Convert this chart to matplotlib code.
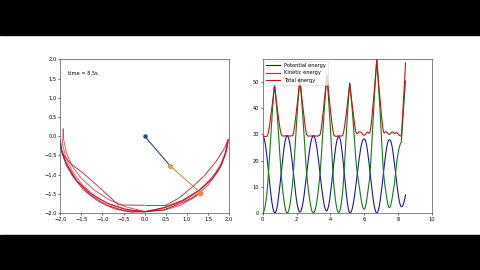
import numpy as np
import matplotlib
matplotlib.use("Agg")
import matplotlib.pyplot as plt
from matplotlib.collections import LineCollection
from matplotlib.patches import Rectangle

# ---------------- data ----------------
DT = 0.05  # sampling step of the energy series (s)

potential = [
    29.5, 29.1, 28.1, 26.5, 24.2, 21.6, 18.6, 15.4, 12.2, 9.1,
    6.3, 3.9, 2.0, 0.7, 0.1, 0.1, 0.9, 2.2, 4.2, 6.7,
    9.5, 12.5, 15.7, 18.8, 21.8, 24.3, 26.5, 28.2, 29.2, 29.5,
    29.2, 28.2, 26.7, 24.6, 22.1, 19.3, 16.3, 13.2, 10.2, 7.4,
    4.9, 3.0, 1.5, 0.6, 0.3, 0.6, 1.4, 2.8, 4.6, 6.8,
    9.4, 12.1, 14.9, 17.7, 20.5, 23.0, 25.2, 27.0, 28.4, 29.2,
    29.5, 29.2, 28.3, 27.0, 25.1, 22.8, 20.2, 17.4, 14.5, 11.7,
    9.0, 6.6, 4.5, 2.8, 1.5, 0.9, 0.8, 1.5, 2.7, 4.5,
    6.9, 9.6, 12.6, 15.6, 18.7, 21.5, 24.1, 26.3, 27.9, 28.9,
    29.3, 28.9, 27.7, 25.8, 23.3, 20.3, 17.0, 13.6, 10.3, 7.1,
    4.4, 2.3, 0.8, 0.1, 0.1, 0.7, 1.7, 3.2, 5.1, 7.3,
    9.8, 12.5, 15.2, 17.8, 20.4, 22.7, 24.7, 26.3, 27.5, 28.1,
    28.3, 28.1, 27.3, 25.8, 23.8, 21.3, 18.6, 15.7, 12.8, 9.8,
    7.1, 4.7, 2.7, 1.2, 0.3, 0.0, 0.3, 1.2, 2.7, 4.7,
    7.1, 9.7, 12.7, 15.6, 18.5, 21.2, 23.6, 25.5, 26.9, 27.8,
    28.0, 27.8, 27.0, 25.6, 23.6, 21.3, 18.7, 15.9, 13.1, 10.4,
    7.9, 5.7, 4.1, 2.9, 2.4, 2.4, 2.9, 3.9, 5.3, 6.9,
]

total = [
    29.6, 29.4, 29.3, 29.2, 29.2, 29.3, 29.9, 31.3, 33.2, 35.5,
    38.1, 40.6, 43.2, 46.1, 49.0, 46.1, 43.2, 40.6, 38.1, 35.5,
    33.2, 31.3, 29.9, 29.5, 29.4, 29.4, 29.4, 29.5, 29.5, 29.6,
    29.5, 29.4, 29.4, 29.4, 29.5, 29.5, 29.9, 31.5, 33.7, 36.3,
    39.2, 42.0, 44.9, 48.2, 51.5, 48.2, 44.9, 42.0, 39.2, 36.3,
    33.7, 31.5, 29.9, 29.5, 29.4, 29.4, 29.4, 29.4, 29.4, 29.5,
    29.6, 29.5, 29.4, 29.4, 29.4, 29.4, 29.5, 29.6, 30.0, 31.6,
    34.0, 36.8, 39.8, 42.9, 46.0, 49.5, 53.0, 49.5, 46.0, 42.9,
    39.8, 36.8, 34.0, 31.6, 30.0, 29.5, 29.3, 29.3, 29.3, 29.4,
    29.5, 29.5, 29.4, 29.4, 29.5, 29.9, 31.3, 33.3, 35.7, 38.3,
    41.0, 43.6, 46.6, 49.6, 46.6, 43.6, 41.0, 38.3, 35.7, 33.3,
    31.3, 30.4, 30.3, 30.6, 30.9, 31.0, 30.9, 30.6, 30.2, 29.8,
    29.7, 29.8, 30.2, 30.6, 30.9, 30.7, 30.4, 30.9, 32.9, 35.7,
    39.1, 42.8, 46.5, 50.2, 54.4, 58.7, 54.4, 50.2, 46.5, 42.8,
    39.1, 35.7, 32.9, 30.9, 30.6, 30.9, 31.0, 30.8, 30.4, 30.1,
    30.0, 30.3, 30.7, 30.9, 30.9, 30.6, 30.3, 30.5, 30.8, 30.7,
    30.3, 29.9, 29.6, 29.4, 29.5, 34.0, 39.5, 45.0, 51.0, 57.3,
]

# trace of the lower bob (x, y), in time order
trace_x = [
    2.00, 1.95, 1.85, 1.68, 1.45, 1.15, 0.80, 0.40, 0.00, -0.40, -0.80, -1.15, -1.45, -1.70, -1.87, -1.95, -1.93,
    -1.92, -1.85, -1.72, -1.50, -1.20, -0.85, -0.45, 0.00, 0.45, 0.85, 1.20, 1.50, 1.75, 1.90, 1.97,
    1.92, 1.80, 1.60, 1.30, 0.95, 0.50, 0.10, -0.30, -0.70, -1.10, -1.45, -1.72, -1.90, -2.00,
    -1.95, -1.75, -1.45, -1.10, -0.62, 0.00, 0.50, 0.80, 1.10, 1.40, 1.70, 1.90, 1.98,
    1.95, 1.82, 1.60, 1.30, 0.90, 0.45, 0.00, -0.45, -0.90, -1.30, -1.62, -1.85, -1.97, -2.00,
    -1.97, -1.85, -1.62, -1.30, -0.90, -0.45, 0.00, 0.45, 0.85, 1.10, 1.32,
]
trace_y = [
    -0.05, -0.30, -0.62, -0.95, -1.25, -1.52, -1.74, -1.89, -1.96, -1.93, -1.80, -1.58, -1.30, -0.95, -0.55, -0.20, 0.20,
    -0.10, -0.45, -0.78, -1.10, -1.40, -1.65, -1.84, -1.96, -1.93, -1.80, -1.58, -1.28, -0.90, -0.50, -0.15,
    -0.45, -0.80, -1.12, -1.42, -1.66, -1.85, -1.96, -1.98, -1.90, -1.70, -1.40, -1.02, -0.60, -0.25,
    -0.45, -0.72, -0.97, -1.31, -1.79, -1.80, -1.80, -1.62, -1.35, -1.05, -0.65, -0.30, -0.08,
    -0.35, -0.75, -1.10, -1.40, -1.67, -1.86, -1.97, -1.95, -1.80, -1.52, -1.15, -0.72, -0.35, -0.10,
    -0.40, -0.78, -1.15, -1.48, -1.74, -1.90, -1.97, -1.92, -1.75, -1.62, -1.47,
]

pivot = (0.0, 0.0)
bob1 = (0.61, -0.78)
bob2 = (1.32, -1.47)
time_label = "time = 8.5s"

x_ticks_left = [-2.0, -1.5, -1.0, -0.5, 0.0, 0.5, 1.0, 1.5, 2.0]
y_ticks_left = [-2.0, -1.5, -1.0, -0.5, 0.0, 0.5, 1.0, 1.5, 2.0]
x_ticks_right = [0, 2, 4, 6, 8, 10]
y_ticks_right = [0, 10, 20, 30, 40, 50]

# ---------------- plot ----------------
FS = 3.7
pe = np.array(potential)
te = np.array(total)
ke = te - pe
t = np.arange(len(pe)) * DT

fig = plt.figure(figsize=(4.8, 2.7), dpi=100)
fig.patch.set_facecolor("white")

ax1 = fig.add_axes([60.3 / 480, 57 / 270, 168.7 / 480, 153.7 / 270])
ax2 = fig.add_axes([262.7 / 480, 57 / 270, 169 / 480, 153.7 / 270])

for ax in (ax1, ax2):
    ax.tick_params(labelsize=FS, length=1.5, width=0.4, pad=1.2)
    for s in ax.spines.values():
        s.set_linewidth(0.5)
        s.set_color("#555555")

# left: pendulum
pts = np.column_stack([trace_x, trace_y])
segs = np.stack([pts[:-1], pts[1:]], axis=1)
n = len(segs)
alphas = np.linspace(0.55, 1.0, n)
cols = np.zeros((n, 4))
cols[:, 0] = 0.75
cols[:, 1] = 0.05
cols[:, 2] = 0.15
cols[:, 3] = alphas
lc = LineCollection(segs, colors=cols, linewidths=0.7)
ax1.add_collection(lc)

ax1.plot([pivot[0], bob1[0]], [pivot[1], bob1[1]], "o-", color="#1f5080",
         lw=0.8, ms=2.2)
ax1.plot([bob1[0], bob2[0]], [bob1[1], bob2[1]], "-", color="#c89048", lw=0.8)
ax1.plot([bob1[0]], [bob1[1]], "o", color="#e0a050", ms=2.6)
ax1.plot([bob2[0]], [bob2[1]], "o", color="#f08040", ms=3.2, alpha=0.9)

ax1.set_xlim(-2, 2)
ax1.set_ylim(-2, 2)
ax1.set_xticks(x_ticks_left)
ax1.set_yticks(y_ticks_left)
ax1.text(0.045, 0.905, time_label, transform=ax1.transAxes, fontsize=FS,
         va="center", ha="left")

# right: energies
ax2.plot(t, pe, color="#1a1a90", lw=0.8, label="Potential energy")
ax2.plot(t, ke, color="#117a11", lw=0.8, label="Kinetic energy")
ax2.plot(t, te, color="#b81818", lw=0.8, label="Total energy")
ax2.set_xlim(0, 10)
ax2.set_ylim(0, 58.7)
ax2.set_xticks(x_ticks_right)
ax2.set_yticks(y_ticks_right)
leg = ax2.legend(loc="upper left", fontsize=FS, handlelength=2.6,
                 borderpad=0.4, labelspacing=0.5, handletextpad=0.8,
                 borderaxespad=0.3, framealpha=0.8)
leg.get_frame().set_linewidth(0.4)

# letterbox bands
fig.patches.append(Rectangle((0, 0), 1, 35 / 270, transform=fig.transFigure,
                             color="black", zorder=10))
fig.patches.append(Rectangle((0, 235 / 270), 1, 35 / 270,
                             transform=fig.transFigure, color="black", zorder=10))

fig.savefig("out.png", dpi=100, facecolor="white")
